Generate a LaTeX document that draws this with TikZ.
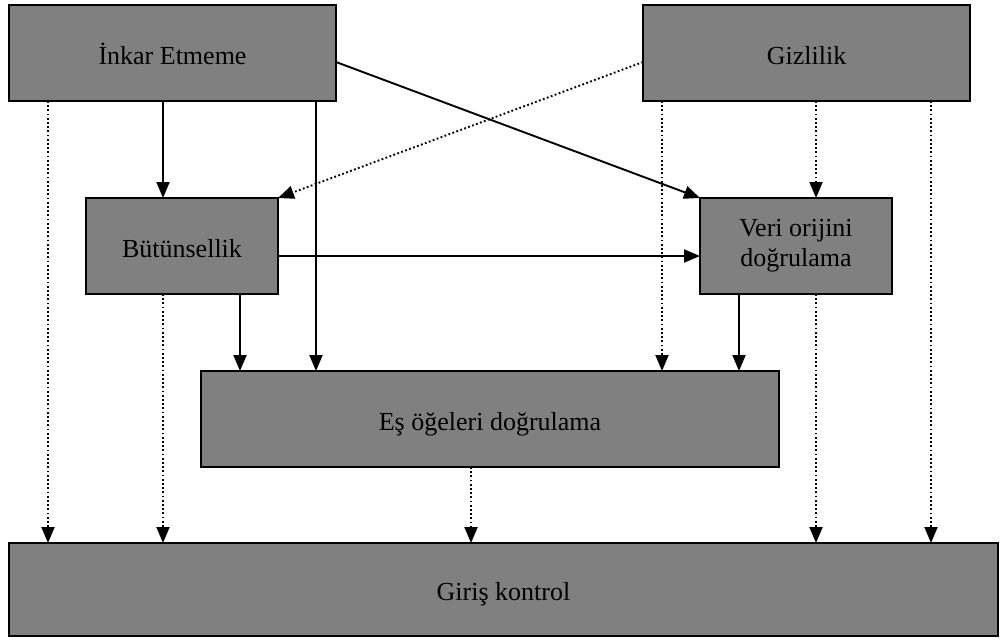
\documentclass[tikz,border=0pt]{standalone}
\usepackage{fontspec}
\setmainfont{Liberation Serif}
\usetikzlibrary{arrows.meta}
\begin{document}
\begin{tikzpicture}[x=1pt,y=-1pt,
  box/.style={draw=black,line width=1.8pt,fill=boxgray,inner sep=0pt,outer sep=0pt,
    align=center,font=\fontsize{26}{30}\selectfont},
  oneline/.style={text height=22pt,text depth=0pt},
  link/.style={line width=1.9pt,-{Triangle[length=16pt,width=13pt]}},
  soft/.style={link,dash pattern=on 1.8pt off 2.4pt}]
\definecolor{boxgray}{HTML}{808080}
\useasboundingbox (0,0) rectangle (1003,640);

% boxes
\node[box,oneline,minimum width=327pt,minimum height=96pt] (ink) at (172.5,53) {İnkar Etmeme};
\node[box,oneline,minimum width=327pt,minimum height=96pt] (giz) at (806.5,53) {Gizlilik};
\node[box,oneline,minimum width=192pt,minimum height=96pt] (but) at (182,246) {Bütünsellik};
\node[box,minimum width=192pt,minimum height=96pt] (veri) at (796,246) {Veri orijini\\doğrulama};
\node[box,oneline,minimum width=578pt,minimum height=96pt] (es) at (490,419) {Eş öğeleri doğrulama};
\node[box,oneline,minimum width=989pt,minimum height=93pt] (gir) at (503.5,589.5) {Giriş kontrol};

% solid links
\draw[link] (163,0 |- ink.south) -- (163,0 |- but.north);
\draw[link] (316,0 |- ink.south) -- (316,0 |- es.north);
\draw[link] (ink.east |- 0,62) -- (veri.north west);
\draw[link] (but.east |- 0,256) -- (veri.west |- 0,256);
\draw[link] (240,0 |- but.south) -- (240,0 |- es.north);
\draw[link] (739,0 |- veri.south) -- (739,0 |- es.north);

% dotted links
\draw[soft] (48,0 |- ink.south) -- (48,0 |- gir.north);
\draw[soft] (giz.west |- 0,62) -- (but.north east);
\draw[soft] (662,0 |- giz.south) -- (662,0 |- es.north);
\draw[soft] (816,0 |- giz.south) -- (816,0 |- veri.north);
\draw[soft] (931,0 |- giz.south) -- (931,0 |- gir.north);
\draw[soft] (163,0 |- but.south) -- (163,0 |- gir.north);
\draw[soft] (816,0 |- veri.south) -- (816,0 |- gir.north);
\draw[soft] (471,0 |- es.south) -- (471,0 |- gir.north);
\end{tikzpicture}
\end{document}
